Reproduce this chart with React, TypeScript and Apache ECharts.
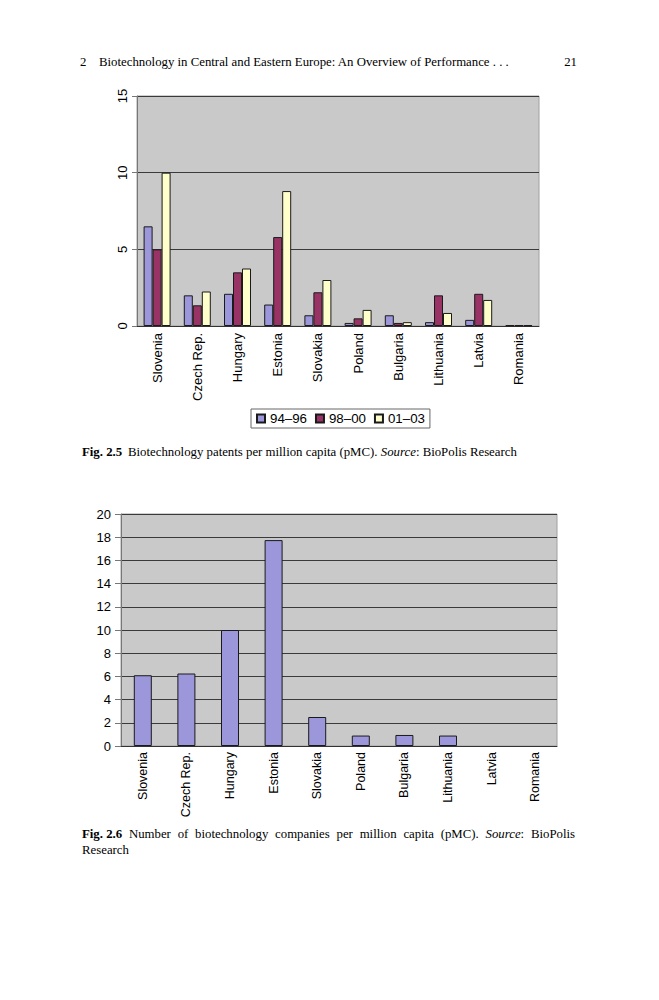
import React, { useEffect, useRef } from "react";
import * as echarts from "echarts";

const countries = ["Slovenia", "Czech Rep.", "Hungary", "Estonia", "Slovakia", "Poland", "Bulgaria", "Lithuania", "Latvia", "Romania"];
const periods = ["94–96", "98–00", "01–03"];
const patents9496 = [6.5, 2.0, 2.1, 1.4, 0.7, 0.2, 0.7, 0.25, 0.4, 0.05];
const patents9800 = [5.0, 1.35, 3.5, 5.8, 2.2, 0.5, 0.2, 2.0, 2.1, 0.05];
const patents0103 = [10.0, 2.25, 3.75, 8.8, 3.0, 1.05, 0.25, 0.85, 1.7, 0.05];
const companies = [6.1, 6.25, 10.0, 17.75, 2.5, 0.9, 0.95, 0.9, 0, 0];
const patentTicks = [0, 5, 10, 15];
const companyTicks = [0, 2, 4, 6, 8, 10, 12, 14, 16, 18, 20];

const SANS = "'Liberation Sans', Arial, sans-serif";
const SERIF = "'Liberation Serif', 'Times New Roman', serif";
const COLORS = ["#9c97db", "#993366", "#ffffcc"];
const FS = 12.8;

type Part = [string, string];
const caption6Line1: Part[][] = [
  [["b", "Fig. 2.6"]],
  [["n", "Number"]],
  [["n", "of"]],
  [["n", "biotechnology"]],
  [["n", "companies"]],
  [["n", "per"]],
  [["n", "million"]],
  [["n", "capita"]],
  [["n", "(pMC)."]],
  [["i", "Source"], ["n", ":"]],
  [["n", "BioPolis"]],
];

const fontFor = (k: string) =>
  (k === "b" ? "bold " : k === "i" ? "italic " : "") + FS + "px " + SERIF;

const rich = {
  b: { fontFamily: SERIF, fontSize: FS, fontWeight: "bold", color: "#000" },
  i: { fontFamily: SERIF, fontSize: FS, fontStyle: "italic", color: "#000" },
  n: { fontFamily: SERIF, fontSize: FS, color: "#000" },
};

function measure(ctx: CanvasRenderingContext2D, parts: Part[]) {
  let w = 0;
  for (const [k, t] of parts) {
    ctx.font = fontFor(k);
    w += ctx.measureText(t).width;
  }
  return w;
}

function justified(parts: Part[][], x0: number, x1: number, y: number) {
  const ctx = document.createElement("canvas").getContext("2d") as CanvasRenderingContext2D;
  const widths = parts.map((p) => measure(ctx, p));
  const total = widths.reduce((a, b) => a + b, 0);
  const gap = (x1 - x0 - total) / (parts.length - 1);
  const out: any[] = [];
  let x = x0;
  parts.forEach((p, idx) => {
    out.push({
      type: "text",
      left: x,
      top: y,
      style: {
        text: p.map(([k, t]) => `{${k}|${t}}`).join(""),
        rich,
        fill: "#000",
      },
    });
    x += widths[idx] + gap;
  });
  return out;
}

export default function App() {
  const ref = useRef<HTMLDivElement>(null);
  useEffect(() => {
    if (!ref.current) return;
    const chart = echarts.init(ref.current, null, { renderer: "svg" });
    const axisLabelCat = (size: number, margin: number) => ({
      rotate: 90,
      fontFamily: SANS,
      fontSize: size,
      color: "#000",
      margin,
      interval: 0,
    });
    const serifFont = FS + "px " + SERIF;
    const graphic: any[] = [
      { type: "text", left: 80, top: 55, style: { text: "2", font: serifFont, fill: "#000" } },
      {
        type: "text",
        left: 99,
        top: 55,
        style: {
          text: "Biotechnology in Central and Eastern Europe: An Overview of Performance . . .",
          font: serifFont,
          fill: "#000",
        },
      },
      { type: "text", right: 659 - 577, top: 55, style: { text: "21", font: serifFont, fill: "#000" } },
      { type: "text", left: 82, top: 445, style: { text: "Fig. 2.5", font: "bold " + serifFont, fill: "#000" } },
      {
        type: "text",
        left: 128,
        top: 445,
        style: {
          text: "{n|Biotechnology patents per million capita (pMC).} {i|Source}{n|: BioPolis Research}",
          rich,
        },
      },
      ...justified(caption6Line1, 82, 575, 827),
      { type: "text", left: 82, top: 843, style: { text: "Research", font: serifFont, fill: "#000" } },
    ];

    chart.setOption({
      animation: false,
      backgroundColor: "#fff",
      graphic,
      legend: {
        data: periods,
        left: 251,
        top: 409,
        itemWidth: 8,
        itemHeight: 8,
        itemGap: 8,
        padding: [3, 5],
        icon: "rect",
        borderColor: "#666",
        borderWidth: 1,
        textStyle: { fontFamily: SANS, fontSize: 13.3, color: "#000" },
      },
      grid: [
        {
          left: 137,
          top: 96,
          right: 659 - 539,
          height: 230,
          show: true,
          backgroundColor: "#c9c9c9",
          borderColor: "#a0a0a0",
          borderWidth: 1,
        },
        {
          left: 121,
          top: 514,
          right: 659 - 557,
          height: 232,
          show: true,
          backgroundColor: "#c9c9c9",
          borderColor: "#a0a0a0",
          borderWidth: 1,
        },
      ],
      xAxis: [
        {
          type: "category",
          gridIndex: 0,
          data: countries,
          axisLine: { lineStyle: { color: "#333", width: 1 } },
          axisTick: { length: 5, lineStyle: { color: "#333" } },
          axisLabel: axisLabelCat(13, 7),
        },
        {
          type: "category",
          gridIndex: 1,
          data: countries,
          axisLine: { lineStyle: { color: "#333", width: 1 } },
          axisTick: { length: 5, lineStyle: { color: "#333" } },
          axisLabel: axisLabelCat(12.5, 6),
        },
      ],
      yAxis: [
        {
          type: "value",
          gridIndex: 0,
          min: patentTicks[0],
          max: patentTicks[patentTicks.length - 1],
          interval: patentTicks[1] - patentTicks[0],
          axisLine: { show: true, lineStyle: { color: "#777" } },
          axisTick: { show: true, length: 5, lineStyle: { color: "#777" } },
          splitLine: { lineStyle: { color: "#3a3a3a", width: 1 } },
          axisLabel: { rotate: 90, fontFamily: SANS, fontSize: 13, color: "#000", margin: 8 },
        },
        {
          type: "value",
          gridIndex: 1,
          min: companyTicks[0],
          max: companyTicks[companyTicks.length - 1],
          interval: companyTicks[1] - companyTicks[0],
          axisLine: { show: true, lineStyle: { color: "#777" } },
          axisTick: { show: true, length: 6, lineStyle: { color: "#777" } },
          splitLine: { lineStyle: { color: "#3a3a3a", width: 1 } },
          axisLabel: { fontFamily: SANS, fontSize: 13, color: "#000", margin: 10 },
        },
      ],
      series: [
        { name: periods[0], data: patents9496, color: COLORS[0] },
        { name: periods[1], data: patents9800, color: COLORS[1] },
        { name: periods[2], data: patents0103, color: COLORS[2] },
      ]
        .map((s) => ({
          type: "bar",
          name: s.name,
          data: s.data as any[],
          xAxisIndex: 0,
          yAxisIndex: 0,
          barWidth: 9,
          barGap: "0%",
          itemStyle: { color: s.color, borderColor: "#1a1a1a", borderWidth: 1 },
        }))
        .concat([
          {
            type: "bar",
            name: "companies",
            data: companies.map((v) => (v === 0 ? null : v)),
            xAxisIndex: 1,
            yAxisIndex: 1,
            barWidth: 18,
            barGap: "0%",
            itemStyle: { color: COLORS[0], borderColor: "#1a1a1a", borderWidth: 1 },
          } as any,
        ]),
    });
    return () => chart.dispose();
  }, []);
  return (
    <div
      ref={ref}
      style={{ position: "absolute", left: 0, top: 0, width: 659, height: 1000, background: "#fff" }}
    />
  );
}
